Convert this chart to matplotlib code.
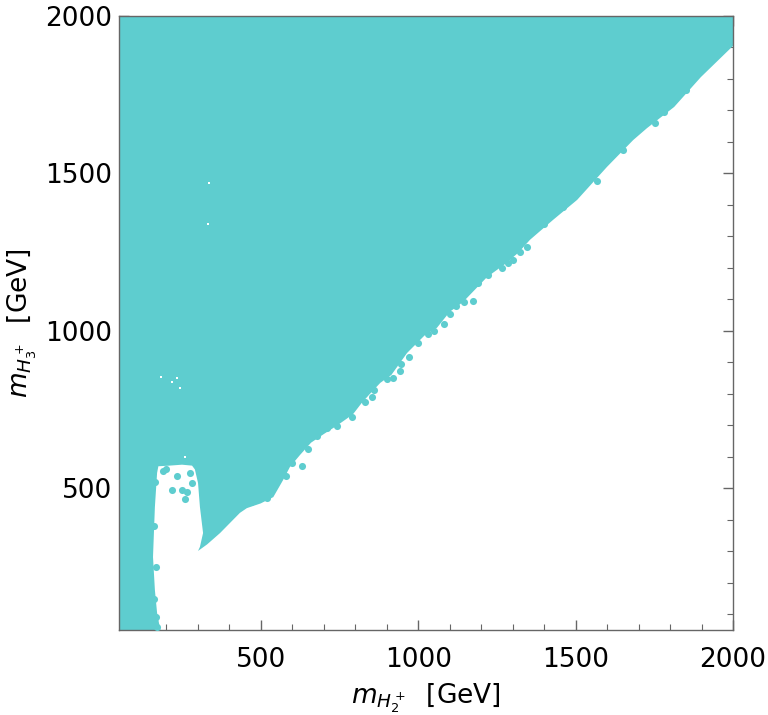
import matplotlib
matplotlib.use("Agg")
import matplotlib.pyplot as plt
from matplotlib.ticker import MultipleLocator

# Allowed region boundary (GeV)
boundary_x = [50, 50, 2000, 2000, 1898, 1813, 1727, 1683, 1600, 1505, 1428, 1355, 1320,
              1280, 1219, 1143, 1100, 1060, 1020, 990, 965, 940, 915, 880, 847, 820, 793,
              742, 700, 660, 625, 593, 571, 540, 500, 456, 434, 371, 330, 301, 307, 317,
              307, 301, 291, 282, 250, 210, 175, 171, 164, 158, 164, 171, 180, 182]
boundary_y = [50, 2000, 2000, 1905, 1806, 1711, 1644, 1606, 1521, 1416, 1352, 1289, 1250,
              1215, 1171, 1092, 1060, 1010, 985, 955, 930, 895, 860, 835, 800, 770, 735,
              699, 672, 645, 606, 568, 526, 472, 452, 437, 422, 358, 322, 301, 314, 358,
              441, 517, 560, 572, 575, 572, 570, 549, 441, 282, 177, 104, 56, 50]

# Isolated scan points along the edge of the dense region
dots_x = [631, 650, 742, 790, 831, 854, 920, 942, 946, 971, 1000, 1031, 1050, 1082, 1101,
          1146, 1174, 1190, 1222, 1266, 1285, 1301, 1323, 1346, 1568, 1752, 1781,
          680, 710, 600, 580, 470, 520, 860, 900, 1120, 1400, 1460, 1650, 1850,
          234, 218, 250, 266, 260, 275, 282, 200, 190,
          165, 162, 168, 160, 166, 172]
dots_y = [571, 625, 699, 726, 774, 790, 850, 873, 895, 917, 961, 990, 1000, 1022, 1054,
          1092, 1095, 1152, 1178, 1200, 1216, 1225, 1251, 1266, 1476, 1660, 1695,
          665, 690, 580, 540, 455, 470, 812, 848, 1080, 1340, 1392, 1575, 1765,
          539, 495, 495, 488, 466, 549, 517, 560, 555,
          520, 380, 250, 150, 90, 60]

# Small holes inside the region
holes_x = [184, 234, 244, 218, 260, 336, 333]
holes_y = [853, 850, 819, 838, 599, 1470, 1339]

color = '#5ecdcf'
fig = plt.figure(figsize=(7.68, 7.15), dpi=100)
ax = fig.add_axes([119/768, 85/715, 614/768, 614/715])

ax.fill(boundary_x, boundary_y, color=color, lw=0, zorder=2)
ax.scatter(dots_x, dots_y, s=26, color=color, lw=0, zorder=3)
ax.scatter(holes_x, holes_y, s=3, color='white', lw=0, marker='s', zorder=4)

ax.set_xlim(50, 2000)
ax.set_ylim(50, 2000)
ax.xaxis.set_major_locator(MultipleLocator(500))
ax.yaxis.set_major_locator(MultipleLocator(500))
ax.xaxis.set_minor_locator(MultipleLocator(100))
ax.yaxis.set_minor_locator(MultipleLocator(100))

gray = '#666666'
for s in ax.spines.values():
    s.set_color(gray)
    s.set_linewidth(1.0)
ax.tick_params(which='both', direction='in', top=True, right=True, colors=gray,
               labelcolor='black', labelsize=19)
ax.tick_params(which='major', length=7, width=1)
ax.tick_params(which='minor', length=4, width=0.8)
ax.tick_params(axis='x', which='major', pad=12)
ax.tick_params(axis='y', which='major', pad=5)

ax.set_xlabel(r'$m_{H_2^+}$  [GeV]', fontsize=19, labelpad=6)
ax.set_ylabel(r'$m_{H_3^+}$  [GeV]', fontsize=19, va='center')
ax.yaxis.set_label_coords(-0.157, 0.5)

fig.savefig('out.png', dpi=100)
